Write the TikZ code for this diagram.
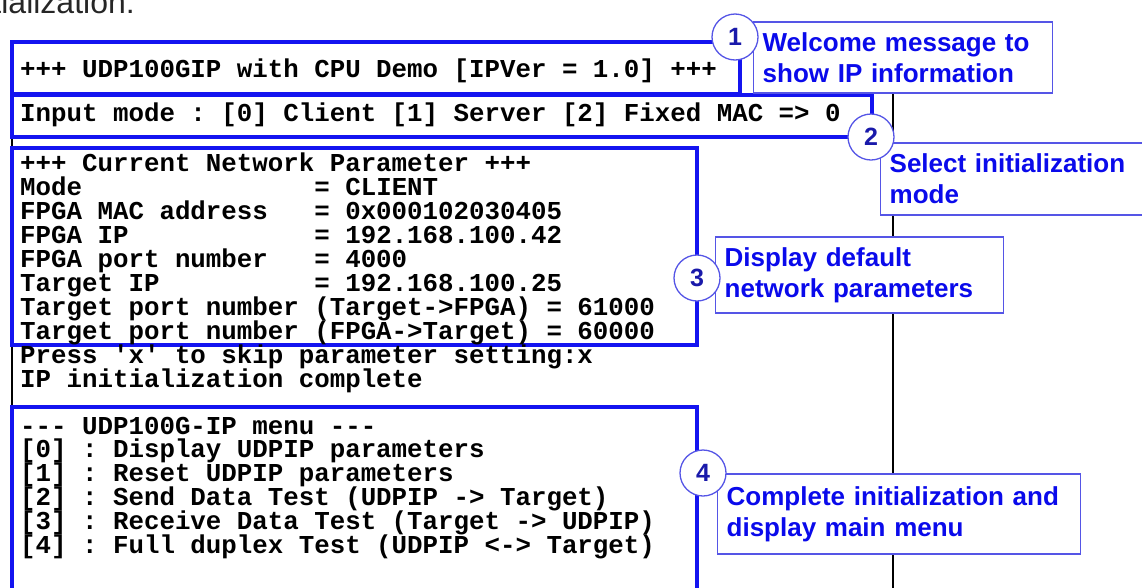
\documentclass[tikz,border=0pt]{standalone}
\usepackage{fontspec}
\setmainfont{Liberation Sans}
\setsansfont{Liberation Sans}
\setmonofont{Liberation Mono}
\definecolor{scrblue}{RGB}{20,20,240}
\definecolor{noteblue}{RGB}{85,85,230}
\definecolor{txtblue}{RGB}{10,10,235}
\definecolor{numblue}{RGB}{25,25,170}
\tikzset{
  term/.style={anchor=base west,inner sep=0pt,font=\ttfamily\bfseries\fontsize{25.8}{24}\selectfont},
  scrbox/.style={draw=scrblue,line width=3.5pt},
  termline/.style={line width=2.5pt},
  note/.style={draw=noteblue,line width=1.3pt,fill=white,text=txtblue,anchor=west,align=left,
    inner xsep=9pt,font=\sffamily\bfseries\fontsize{26}{31}\selectfont},
  num/.style={circle,draw=noteblue,fill=white,line width=1.3pt,minimum size=46pt,inner sep=0pt,
    text=numblue,font=\sffamily\bfseries\fontsize{25}{25}\selectfont}
}
\begin{document}
\begin{tikzpicture}[x=1pt,y=-1pt]%console output with notes
\path[use as bounding box] (0,0) rectangle (1142,587);
\clip (0,0) rectangle (1142,587);
\node[anchor=base east,inner sep=0pt,text=black!85,font=\fontsize{32}{32}\selectfont] (cap) at (135,13) {initialization:};
% console frame
\draw[termline] (12,42)--(12,600);
\draw[termline] (893,93)--(893,600);
% marked parts of the console
\draw[scrbox] (12,42) rectangle (740,94);
\draw[scrbox] (12,95) rectangle (872,137);
\draw[scrbox] (12,148) rectangle (697,345);
\draw[scrbox] (12,407) rectangle (697,620);
% console text
\node[term] (head) at (20,77) {+++ UDP100GIP with CPU Demo [IPVer = 1.0] +++};
\node[term] (mode) at (20,121) {Input mode : [0] Client [1] Server [2] Fixed MAC => 0};
\foreach \txt [count=\i] in {{+++ Current Network Parameter +++},
  {Mode~~~~~~~~~~~~~~~= CLIENT},
  {FPGA MAC address~~~= 0x000102030405},
  {FPGA IP~~~~~~~~~~~~= 192.168.100.42},
  {FPGA port number~~~= 4000},
  {Target IP~~~~~~~~~~= 192.168.100.25},
  {Target port number (Target->FPGA) = 61000},
  {Target port number (FPGA->Target) = 60000},
  {Press 'x' to skip parameter setting:x},
  {IP initialization complete}}
  \node[term] (par\i) at (20,{171+24*(\i-1)}) {\txt};
\foreach \txt [count=\i] in {{--- UDP100G-IP menu ---},
  {[0] : Display UDPIP parameters},
  {[1] : Reset UDPIP parameters},
  {[2] : Send Data Test (UDPIP -> Target)},
  {[3] : Receive Data Test (Target -> UDPIP)},
  {[4] : Full duplex Test (UDPIP <-> Target)}}
  \node[term] (menu\i) at (20,{434+23.8*(\i-1)}) {\txt};
% notes
\node[note,minimum width=299pt,minimum height=71pt,text width=281pt] (n1) at (753,57.5) {Welcome message to\\show IP information};
\node[note,minimum width=280pt,minimum height=72pt,text width=262pt] (n2) at (880,179) {Select initialization\\mode};
\node[note,minimum width=288pt,minimum height=76pt,text width=270pt] (n3) at (715,275) {Display default\\network parameters};
\node[note,minimum width=363pt,minimum height=80pt,text width=345pt] (n4) at (717,514) {Complete initialization and\\display main menu};
\node[num] (c1) at (735,37) {1};
\node[num] (c2) at (871,137) {2};
\node[num] (c3) at (697,278) {3};
\node[num] (c4) at (703,473) {4};
\end{tikzpicture}
\end{document}
